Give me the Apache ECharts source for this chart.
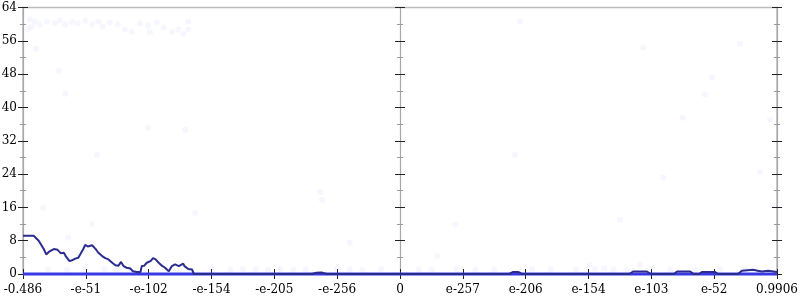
<!DOCTYPE html>
<html>
<head>
<meta charset="utf-8">
<script src="https://cdn.jsdelivr.net/npm/echarts@6/dist/echarts.min.js"></script>
<style>html,body{margin:0;padding:0;background:#fff;}#c{width:800px;height:300px;}</style>
</head>
<body>
<div id="c"></div>
<script>
// x positions are on the transformed (symmetric log-like) axis: -6 .. 6, one unit per tick label
const xTickLabels = ['-0.486','-e-51','-e-102','-e-154','-e-205','-e-256','0','e-257','e-206','e-154','e-103','e-52','0.9906'];
const yTickValues = [0, 8, 16, 24, 32, 40, 48, 56, 64];

// main (navy) trace
const traceX = [-6.00,-5.83,-5.80,-5.75,-5.72,-5.67,-5.63,-5.59,-5.56,-5.51,-5.45,-5.40,-5.35,-5.32,-5.26,-5.22,-5.17,-5.12,-5.09,-5.04,-5.01,-4.97,-4.94,-4.90,-4.85,-4.80,-4.74,-4.69,-4.64,-4.58,-4.53,-4.48,-4.44,-4.40,-4.35,-4.29,-4.25,-4.19,-4.13,-4.11,-4.07,-4.03,-3.97,-3.93,-3.89,-3.84,-3.79,-3.74,-3.68,-3.63,-3.58,-3.52,-3.45,-3.43,-3.37,-3.31,-3.28,
  -1.40,-1.33,-1.25,-1.17, 1.74,1.80,1.88,1.94, 3.65,3.71,3.93,3.99, 4.36,4.41,4.62,4.67, 4.76,4.81,5.01,5.06, 5.38,5.44,5.62,5.69,5.76,5.86,6.00];
const traceY = [9.2,9.2,9.0,8.0,7.8,6.0,4.7,5.3,4.9,6.0,5.8,5.0,5.1,4.3,3.1,3.3,3.7,3.9,4.7,6.0,7.0,6.6,6.2,6.9,6.1,5.1,4.3,3.8,3.5,2.7,2.1,2.0,2.9,1.9,1.5,1.3,0.65,0.5,0.5,1.9,2.0,2.7,3.1,3.8,3.5,2.7,2.0,1.5,0.65,1.9,2.3,1.9,2.5,1.9,1.2,1.1,0.0,
  0.0,0.3,0.35,0.0, 0.0,0.5,0.5,0.0, 0.0,0.6,0.6,0.0, 0.0,0.6,0.6,0.0, 0.0,0.5,0.5,0.0, 0.0,0.8,1.0,0.8,0.6,0.8,0.5];

// blue baseline trace
const baseX = [-6, 6];
const baseY = [0, 0];

// faint background points
const dotX = [-5.89,-5.81,-5.86,-5.92,-5.73,-5.62,-5.49,-5.41,-5.33,-5.22,-5.13,-5.01,-4.90,-4.80,-4.73,-4.62,-4.49,-4.38,-4.27,-4.14,-4.01,-3.98,-3.87,-3.76,-3.63,-3.53,-3.45,-3.37,-3.37,-5.79,-5.43,-5.33,
  -4.82,-4.01,-3.42,-5.68,-5.28,-4.90,-3.26,-1.27,-1.24,-0.80,0.59,0.88,1.83,1.91,3.50,4.19,4.50,4.85,4.97,5.41,3.87,5.73,5.89,5.92,3.82,3.02,3.25,
  -5.6,-5.3,-5.0,-4.7,-4.5,-4.3,-3.0,-2.7,-2.5,-2.3,-2.1,-1.9,-1.7,-1.5,-1.0,-0.8,-0.6,-0.3,0.3,0.5,0.9,1.2,1.5,2.1,2.4,2.8,3.1,3.4,3.6,4.0,4.3,4.7,5.1,5.5];
const dotY = [61.1,60.6,59.4,58.7,59.9,60.6,60.2,60.9,59.9,60.6,60.2,60.9,59.9,60.6,59.4,60.4,59.9,58.7,58.2,60.2,59.7,58.0,60.4,59.2,58.2,58.7,57.7,60.6,58.7,54.1,48.8,43.3,
  28.6,35.1,34.6,15.9,8.7,12.0,14.7,19.7,17.8,7.5,4.3,11.8,28.6,60.6,13.0,23.1,37.5,43.1,47.2,55.3,54.4,24.5,37.1,16.6,2.2,2.2,1.4,
  1.1,1.0,1.2,1.1,1.0,1.2,1.1,1.0,1.2,1.1,1.0,1.2,1.1,1.0,1.2,1.1,1.0,1.2,1.1,1.0,1.2,1.1,1.0,1.2,1.1,1.0,1.2,1.1,1.0,1.2,1.1,1.0,1.2,1.1];

const zip = (a, b) => a.map((v, i) => [v, b[i]]);
const FONT = 'DejaVu Serif';

const tickMajor = {color: '#222', width: 1};
const tickMinor = {color: '#999', width: 1};
const axisLineStyle = {color: '#a8a8a8', width: 1.2};

function yAx(position, onZero, inside, showLabel) {
  return {
    type: 'value', min: 0, max: 64, interval: 8, position: position,
    axisLine: {show: !inside, onZero: onZero, lineStyle: axisLineStyle},
    axisTick: {show: true, inside: inside, length: 5, lineStyle: tickMajor},
    minorTick: {show: true, splitNumber: 2, length: 3, lineStyle: tickMinor},
    axisLabel: {show: showLabel, fontFamily: FONT, fontSize: 12, color: '#000', margin: 6,
      formatter: v => (yTickValues.indexOf(v) >= 0 ? String(v) : '')},
    splitLine: {show: false}
  };
}
function xAx(inside, showLabel) {
  return {
    type: 'value', min: -6, max: 6, interval: 1, position: 'bottom',
    axisLine: {show: !inside, onZero: false, lineStyle: axisLineStyle},
    axisTick: {show: true, inside: inside, length: 5, lineStyle: tickMajor},
    axisLabel: {show: showLabel, fontFamily: FONT, fontSize: 12, color: '#000', margin: 10,
      showMinLabel: true, showMaxLabel: true,
      formatter: v => xTickLabels[Math.round(v + 6)]},
    splitLine: {show: false}
  };
}

const chart = echarts.init(document.getElementById('c'), null, {renderer: 'canvas'});
chart.setOption({
  animation: false,
  grid: {left: 23, right: 23, top: 7.5, bottom: 26, show: true, borderColor: '#bbb', borderWidth: 1.5,
    containLabel: false, outerBoundsMode: 'none'},
  xAxis: [xAx(false, true), xAx(true, false)],
  yAxis: [
    yAx('left', false, false, true), yAx('left', false, true, false),
    yAx('left', true, false, false), yAx('left', true, true, false),
    yAx('right', false, false, false), yAx('right', false, true, false)
  ],
  series: [
    {type: 'scatter', data: zip(dotX, dotY), symbolSize: 6, silent: true,
      itemStyle: {color: 'rgba(90,90,255,0.07)'}, z: 1},
    {type: 'line', data: zip(baseX, baseY), showSymbol: false, clip: false,
      lineStyle: {color: '#3838e6', width: 3}, z: 2},
    {type: 'line', data: zip(traceX, traceY), showSymbol: false, clip: false,
      lineStyle: {color: '#2b2d8e', width: 2}, z: 3}
  ]
});
</script>
</body>
</html>
